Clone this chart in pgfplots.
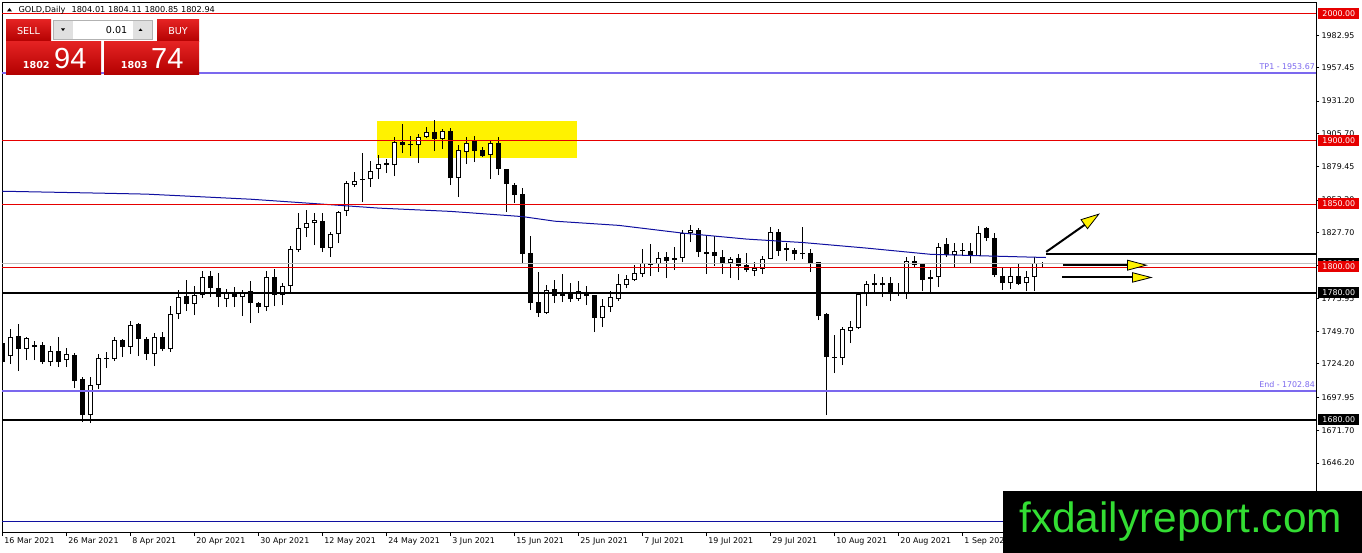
\documentclass[border=0pt]{standalone}
\usepackage{pgfplots}
\pgfplotsset{compat=1.18}
\usepackage{pgfplotstable}
\usepackage{fontspec}
\setmainfont{DejaVu Sans}
\newfontfamily\lib{Liberation Sans}
\newcommand\fs[1]{\fontsize{#1}{#1}\selectfont}
\definecolor{lred}{RGB}{230,0,0}
\definecolor{lvl}{RGB}{123,104,238}
\definecolor{ma}{RGB}{16,16,160}
\definecolor{bid}{RGB}{192,192,192}
\definecolor{pnlt}{RGB}{228,34,34}
\definecolor{pnlb}{RGB}{178,0,0}
\definecolor{wmg}{RGB}{51,221,51}

\pgfplotstableread{
k O H L C
0 1740.55 1746.85 1720.87 1725.59
1 1730.32 1751.57 1724.02 1745.28
2 1746.06 1755.51 1718.50 1735.83
3 1735.83 1745.28 1727.17 1744.49
4 1738.98 1742.13 1727.17 1737.40
5 1738.98 1741.34 1724.02 1725.59
6 1725.59 1738.19 1722.44 1734.25
7 1734.25 1745.28 1721.65 1725.59
8 1727.17 1736.61 1721.65 1731.89
9 1731.10 1732.68 1705.12 1710.63
10 1712.20 1713.78 1678.35 1683.86
11 1683.86 1713.78 1677.56 1707.48
12 1707.48 1731.89 1704.33 1728.74
13 1727.95 1733.47 1720.87 1728.00
14 1727.95 1745.28 1726.38 1742.91
15 1742.91 1743.70 1729.53 1737.40
16 1737.40 1757.87 1731.89 1754.72
17 1755.51 1756.30 1730.32 1743.70
18 1743.70 1745.28 1727.17 1731.89
19 1731.89 1748.43 1722.44 1745.28
20 1745.28 1749.21 1734.25 1735.83
21 1735.83 1769.69 1733.47 1763.39
22 1763.39 1782.28 1759.45 1776.76
23 1777.55 1790.15 1765.75 1771.26
24 1771.26 1785.43 1762.60 1778.34
25 1778.34 1797.24 1775.98 1792.51
26 1793.30 1797.24 1776.76 1783.85
27 1783.85 1795.66 1768.90 1776.76
28 1775.19 1783.06 1768.90 1779.91
29 1779.91 1784.64 1768.90 1776.76
30 1776.76 1782.28 1761.81 1780.70
31 1781.49 1789.36 1756.30 1772.05
32 1772.05 1772.84 1764.17 1768.90
33 1768.90 1797.24 1765.75 1792.51
34 1792.51 1798.81 1769.69 1778.34
35 1778.34 1787.79 1770.47 1785.43
36 1785.43 1816.93 1780.70 1814.57
37 1813.78 1842.92 1812.20 1831.11
38 1831.11 1845.28 1824.02 1835.04
39 1835.04 1842.92 1817.72 1837.40
40 1836.62 1842.92 1812.20 1815.35
41 1815.35 1827.96 1808.26 1826.38
42 1826.38 1844.49 1819.29 1843.70
43 1844.49 1868.10 1840.55 1866.53
44 1864.95 1875.19 1863.38 1868.10
45 1869.68 1890.15 1851.58 1868.89
46 1869.68 1883.86 1863.38 1875.98
47 1877.56 1888.58 1869.68 1881.49
48 1882.28 1885.43 1874.40 1880.71
49 1880.71 1902.75 1872.04 1898.81
50 1898.81 1912.99 1890.15 1896.45
51 1896.45 1903.54 1887.79 1896.50
52 1896.45 1905.11 1882.28 1902.75
53 1902.75 1910.63 1901.96 1906.69
54 1906.69 1916.14 1891.73 1901.17
55 1901.17 1909.05 1893.30 1907.48
56 1907.48 1909.84 1864.95 1870.47
57 1870.47 1896.45 1855.51 1892.52
58 1890.94 1902.75 1881.49 1898.02
59 1899.60 1903.54 1883.07 1891.73
60 1892.52 1894.87 1887.00 1887.79
61 1888.58 1899.60 1869.68 1898.02
62 1898.02 1902.75 1872.83 1877.56
63 1877.56 1877.56 1843.70 1865.74
64 1864.95 1866.53 1850.79 1857.09
65 1857.87 1862.59 1802.75 1810.63
66 1811.42 1824.81 1766.54 1772.05
67 1772.84 1796.45 1761.02 1764.17
68 1764.17 1786.21 1763.39 1782.28
69 1783.06 1790.15 1772.05 1777.55
70 1779.91 1794.87 1772.84 1777.55
71 1780.70 1787.79 1772.84 1775.19
72 1775.19 1789.36 1773.62 1781.49
73 1779.91 1785.43 1770.47 1777.55
74 1778.34 1778.34 1749.21 1760.24
75 1760.24 1775.19 1753.15 1769.69
76 1768.90 1781.49 1764.96 1776.76
77 1775.19 1794.87 1773.62 1787.00
78 1786.21 1794.09 1783.85 1790.94
79 1790.15 1801.96 1789.36 1795.66
80 1794.87 1814.57 1792.51 1803.54
81 1803.54 1818.50 1793.30 1801.96
82 1802.75 1812.20 1796.45 1807.48
83 1808.26 1812.20 1791.72 1805.11
84 1805.90 1816.14 1798.02 1807.48
85 1807.48 1829.53 1804.33 1827.17
86 1827.17 1833.47 1820.08 1829.53
87 1829.53 1831.11 1808.26 1812.20
88 1812.20 1824.81 1794.87 1810.63
89 1812.20 1824.81 1801.18 1809.05
90 1808.26 1813.78 1794.87 1803.54
91 1803.54 1808.26 1791.72 1806.69
92 1807.48 1810.63 1790.15 1801.18
93 1801.96 1811.42 1796.45 1798.02
94 1797.24 1804.33 1793.30 1799.60
95 1798.81 1809.05 1794.87 1806.69
96 1806.69 1831.89 1806.50 1827.96
97 1827.96 1830.32 1809.05 1812.99
98 1815.35 1819.29 1805.11 1813.78
99 1813.78 1815.35 1805.90 1810.63
100 1811.42 1831.89 1806.69 1810.63
101 1811.42 1814.57 1796.45 1803.54
102 1804.33 1804.33 1758.66 1761.81
103 1763.39 1764.17 1683.86 1729.53
104 1729.53 1746.85 1716.93 1728.74
105 1728.74 1753.15 1723.23 1751.57
106 1750.00 1757.87 1740.55 1753.15
107 1752.36 1779.91 1751.57 1779.13
108 1779.13 1789.36 1769.69 1787.00
109 1787.79 1794.87 1779.91 1786.21
110 1786.21 1792.51 1776.76 1787.79
111 1787.79 1792.51 1773.62 1779.91
112 1779.91 1787.79 1777.55 1779.95
113 1779.91 1808.26 1775.19 1805.11
114 1805.11 1809.05 1800.39 1801.96
115 1802.75 1803.54 1781.49 1790.15
116 1790.94 1798.02 1780.70 1792.51
117 1792.51 1819.29 1784.64 1816.14
118 1818.50 1823.23 1808.26 1809.84
119 1809.84 1819.29 1800.39 1812.99
120 1812.99 1819.29 1809.05 1813.05
121 1812.99 1819.29 1803.54 1809.05
122 1809.05 1832.68 1809.05 1827.17
123 1831.11 1831.89 1820.87 1823.23
124 1823.23 1827.17 1792.51 1794.09
125 1793.30 1799.60 1782.28 1787.79
126 1787.79 1799.60 1783.06 1793.30
127 1793.30 1803.54 1786.21 1787.00
128 1787.79 1797.24 1781.49 1792.51
129 1792.51 1808.26 1781.49 1804.01
130 1804.01 1804.11 1800.85 1802.94
}\candles

\pgfplotstableread{
k p
-1 1860.3
12 1858.7
18 1857.9
31 1853.9
40 1850.0
47 1846.9
56 1844.3
65 1840.2
69 1836.6
77 1833.3
85 1827.2
93 1822.5
100 1819.8
108 1815.4
116 1810.5
122 1809.4
130.4 1808.0
}\mavg

\begin{document}
\begin{tikzpicture}[x=1pt,y=1pt]
\begin{axis}[
  at={(2.7,16)}, anchor=south west,
  scale only axis, width=1313.8pt, height=529.8pt,
  xmin=-0.075, xmax=164.15, ymin=1591.34, ymax=2008.5,
  axis line style={black, line width=0.9pt},
  clip mode=individual,
  xtick={0,8,...,120},
  xticklabels={16 Mar 2021,26 Mar 2021,8 Apr 2021,20 Apr 2021,30 Apr 2021,12 May 2021,24 May 2021,3 Jun 2021,15 Jun 2021,25 Jun 2021,7 Jul 2021,19 Jul 2021,29 Jul 2021,10 Aug 2021,20 Aug 2021,1 Sep 2021},
  ytick={1619.95,1646.20,1671.70,1697.95,1724.20,1749.70,1775.95,1801.45,1827.70,1853.20,1879.45,1905.70,1931.20,1957.45,1982.95},
  yticklabels={{},1646.20,1671.70,1697.95,1724.20,1749.70,1775.95,{},1827.70,1853.20,1879.45,1905.70,1931.20,1957.45,1982.95},
  xtick pos=bottom, ytick pos=right, yticklabel pos=right, xticklabel pos=bottom,
  tick align=outside, major tick length=3.5pt, tick style={black, line width=0.9pt},
  ticklabel style={font=\fs{7.9}, inner sep=0pt},
  xticklabel style={anchor=north west, xshift=1.5pt, yshift=-1pt},
  yticklabel style={anchor=west, xshift=2pt},
  /pgf/number format/assume math mode=true,
]
% yellow zone
\addplot[fill=yellow, draw=none] coordinates {(46.84,1886.22) (71.84,1886.22) (71.84,1915.35) (46.84,1915.35)} -- cycle;
% wicks
\addplot[draw=none, error bars/.cd, y dir=plus, y explicit, error mark=none,
  error bar style={draw=black, solid, line width=1pt}]
  table[x=k, y=L, y error expr=\thisrow{H}-\thisrow{L}] {\candles};
% bodies (outline / black)
\addplot[draw=none, error bars/.cd, y dir=plus, y explicit, error mark=none,
  error bar style={draw=black, solid, line width=5pt}]
  table[x=k, y expr={min(\thisrow{O},\thisrow{C})}, y error expr={max(abs(\thisrow{C}-\thisrow{O}),0.8)}] {\candles};
% white interiors of bullish bodies
\addplot[draw=none, restrict expr to domain={\thisrow{C}-\thisrow{O}}{1.7:10000},
  error bars/.cd, y dir=plus, y explicit, error mark=none,
  error bar style={draw=white, solid, line width=3pt}]
  table[x=k, y expr={\thisrow{O}+0.79}, y error expr={\thisrow{C}-\thisrow{O}-1.58}] {\candles};
% moving average
\addplot[ma, line width=1pt] table[x=k, y=p] {\mavg};
% levels
\addplot[lred, line width=1pt] coordinates {(-1,2000) (170,2000)};
\addplot[lvl, line width=2pt] coordinates {(-1,1953.67) (170,1953.67)};
\addplot[lred, line width=1pt] coordinates {(-1,1900) (170,1900)};
\addplot[lred, line width=1pt] coordinates {(-1,1850) (170,1850)};
\addplot[bid, line width=1pt] coordinates {(-1,1802.94) (170,1802.94)};
\addplot[lred, line width=1pt] coordinates {(-1,1800) (170,1800)};
\addplot[black, line width=2.5pt] coordinates {(-1,1780) (170,1780)};
\addplot[lvl, line width=2pt] coordinates {(-1,1702.84) (170,1702.84)};
\addplot[black, line width=2.5pt] coordinates {(-1,1680) (170,1680)};
\addplot[ma, line width=1pt] coordinates {(-1,1600) (170,1600)};
\addplot[black, line width=2.2pt] coordinates {(130.43,1810.6) (170,1810.6)};
% arrows
\addplot[black, line width=2pt] coordinates {(130.43,1812.44) (135.3,1834.0)};
\addplot[fill=yellow, draw=black, line width=0.8pt] coordinates {(137.0,1842.13) (134.78,1837.80) (135.59,1830.71)} -- cycle;
\addplot[black, line width=2pt] coordinates {(132.59,1801.96) (140.6,1801.96)};
\addplot[fill=yellow, draw=black, line width=0.8pt] coordinates {(142.93,1801.96) (140.59,1805.90) (140.59,1798.02)} -- cycle;
\addplot[black, line width=2pt] coordinates {(132.43,1792.28) (141.2,1792.28)};
\addplot[fill=yellow, draw=black, line width=0.8pt] coordinates {(143.55,1792.28) (141.21,1796.06) (141.21,1788.58)} -- cycle;
\end{axis}

% level texts
\node[anchor=east, inner sep=0pt, text=lvl, font=\fs{7.9}] at (1315,486.3) {TP1 - 1953.67};
\node[anchor=east, inner sep=0pt, text=lvl, font=\fs{7.9}] at (1315,168) {End - 1702.84};

% price labels on the right scale
\tikzset{lbl/.style={minimum width=41pt, minimum height=11pt, inner sep=0pt, text=white, font=\fs{7.9}}}
\node[lbl, fill=lred] at (1338.8,539.5) {2000.00};
\node[lbl, fill=lred] at (1338.8,412.5) {1900.00};
\node[lbl, fill=lred] at (1338.8,349) {1850.00};
\node[lbl, fill=black] at (1338.8,289.2) {1802.94};
\node[lbl, fill=lred] at (1338.8,286) {1800.00};
\node[lbl, fill=black] at (1338.8,260.1) {1780.00};
\node[lbl, fill=black] at (1338.8,133.1) {1680.00};

% header
\fill[black] (7,541.5) -- (12,541.5) -- (9.5,545) -- cycle;
\node[anchor=west, inner sep=0pt, font=\fs{8.2}] at (18.3,543) {GOLD,Daily\hspace{6pt}1804.01 1804.11 1800.85 1802.94};

% trade panel
\shade[top color=pnlt, bottom color=pnlb] (6,511) rectangle (51,533);
\node[text=white, font=\fs{9.6}] at (28.5,522) {SELL};
\draw[pnlt!50!white, line width=0.6pt] (10,511.6) -- (47,511.6);
\fill[white] (53,513) rectangle (153,533);
\draw[black!30, line width=0.8pt] (53.4,513.4) rectangle (152.6,532.6);
\fill[black!12] (54,514) rectangle (73,532);
\fill[black!12] (133,514) rectangle (152,532);
\fill[black] (61,524.5) -- (65,524.5) -- (63,522) -- cycle;
\fill[black] (138.5,522) -- (142.5,522) -- (140.5,524.5) -- cycle;
\node[anchor=east, inner sep=0pt, font=\fs{9.6}] at (127.5,523) {0.01};
\shade[top color=pnlt, bottom color=pnlb] (157,511) rectangle (199,533);
\node[text=white, font=\fs{9.6}] at (178,522) {BUY};
\draw[pnlt!50!white, line width=0.6pt] (160,511.6) -- (196,511.6);
\shade[top color=pnlt, bottom color=pnlb] (6,478) rectangle (101,511);
\shade[top color=pnlt, bottom color=pnlb] (104,478) rectangle (199,511);
\node[anchor=base west, inner sep=0pt, text=white, font=\bfseries\fs{9.6}] at (22.7,484.7) {1802};
\node[anchor=base west, inner sep=0pt, text=white, font=\lib\fs{29}] at (54,484.7) {94};
\node[anchor=base west, inner sep=0pt, text=white, font=\bfseries\fs{9.6}] at (120.7,484.7) {1803};
\node[anchor=base west, inner sep=0pt, text=white, font=\lib\fs{29}] at (151,484.7) {74};

% watermark
\fill[black] (1003,0) rectangle (1362,62);
\node[anchor=base west, inner sep=0pt, text=wmg, font=\lib\fs{42.4}] at (1019,20) {fxdailyreport.com};

\pgfresetboundingbox
\path[use as bounding box] (0,0) rectangle (1362,553);
\end{tikzpicture}
\end{document}
